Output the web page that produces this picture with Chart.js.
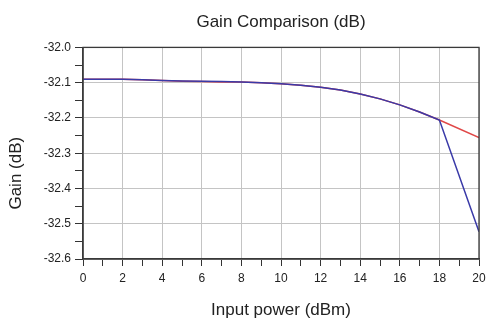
<!DOCTYPE html>
<html>
<head>
<meta charset="utf-8">
<script src="https://cdn.jsdelivr.net/npm/chart.js@4"></script>
<style>
html,body{margin:0;padding:0;background:#fff;}
#wrap{width:486px;height:325px;}
</style>
</head>
<body>
<div id="wrap"><canvas id="c" width="486" height="325"></canvas></div>
<script>
const chartTitle = "Gain Comparison (dB)";
const xTitle = "Input power (dBm)";
const yTitle = "Gain (dB)";
const inputPower = [0,1,2,3,4,5,6,7,8,9,10,11,12,13,14,15,16,17,18,20];
const gainBlue = [-32.090,-32.090,-32.090,-32.092,-32.094,-32.095,-32.096,-32.097,-32.098,-32.100,-32.103,-32.107,-32.113,-32.121,-32.132,-32.146,-32.163,-32.183,-32.206,-32.523];
const gainRed  = [-32.090,-32.090,-32.090,-32.092,-32.094,-32.096,-32.097,-32.098,-32.098,-32.100,-32.103,-32.107,-32.113,-32.121,-32.132,-32.146,-32.163,-32.183,-32.206,-32.256];
const xTicks = [0,2,4,6,8,10,12,14,16,18,20];
const yTicks = [-32.0,-32.1,-32.2,-32.3,-32.4,-32.5,-32.6];

const FONT = "'Liberation Sans', Arial, sans-serif";
const toPts = (ys) => inputPower.map((x,i)=>({x:x,y:ys[i]}));

const isMajorY = v => Math.abs(Math.round(v*100)) % 10 === 0;
const isMajorX = v => Math.round(v) % 2 === 0;

const framePlugin = {
  id:'frame',
  afterDraw(chart){
    const {ctx, chartArea:a} = chart;
    ctx.save();
    ctx.strokeStyle = '#3a3a3a';
    ctx.lineWidth = 1.3;
    ctx.strokeRect(a.left, a.top, a.right-a.left, a.bottom-a.top);
    // y-axis title
    ctx.fillStyle = '#222';
    ctx.font = "17px " + FONT;
    ctx.textAlign = 'center';
    ctx.textBaseline = 'middle';
    ctx.translate(16, (a.top+a.bottom)/2 + 20);
    ctx.rotate(-Math.PI/2);
    ctx.fillText(yTitle, 0, 0);
    ctx.restore();
  }
};

new Chart(document.getElementById('c'), {
  type:'line',
  data:{
    datasets:[
      {label:'red', data:toPts(gainRed), borderColor:'#e04848', borderWidth:1.5, pointRadius:0, tension:0, order:2},
      {label:'blue', data:toPts(gainBlue), borderColor:'#3a3aa8', borderWidth:1.5, pointRadius:0, tension:0, order:1}
    ]
  },
  options:{
    responsive:false,
    animation:false,
    events:[],
    layout:{padding:{left:0,right:7,top:0,bottom:0}},
    plugins:{
      legend:{display:false},
      tooltip:{enabled:false},
      title:{display:true, text:chartTitle, fullSize:false, color:'#222',
        font:{family:FONT, size:17, weight:'normal'}, padding:{top:12, bottom:15}}
    },
    scales:{
      x:{
        type:'linear', min:0, max:20,
        afterFit(s){ s.height = 66; s.paddingRight = 0; s.paddingLeft = 0; },
        ticks:{stepSize:1, autoSkip:false, maxRotation:0, color:'#222', padding:5,
          font:{family:FONT, size:12},
          callback:(v)=> xTicks.includes(v) ? String(v) : ''},
        grid:{color:(c)=> isMajorX(c.tick.value) ? '#c4c4c4' : 'rgba(0,0,0,0)', tickColor:'#333', tickLength:7, lineWidth:1},
        border:{color:'#3a3a3a', width:1.3},
        title:{display:true, text:xTitle, color:'#222', font:{family:FONT, size:17}, padding:{top:0,bottom:4}}
      },
      y:{
        min:-32.6, max:-32.0,
        afterFit(s){ s.width = 83; },
        ticks:{stepSize:0.05, autoSkip:false, color:'#222', padding:4,
          font:{family:FONT, size:12},
          callback:(v)=> isMajorY(v) && yTicks.some(t=>Math.abs(t-v)<1e-6) ? v.toFixed(1) : ''},
        grid:{color:(c)=> isMajorY(c.tick.value) ? '#c4c4c4' : 'rgba(0,0,0,0)', tickColor:'#333', tickLength:8, lineWidth:1},
        border:{color:'#3a3a3a', width:1.3}
      }
    }
  },
  plugins:[framePlugin]
});
</script>
</body>
</html>
